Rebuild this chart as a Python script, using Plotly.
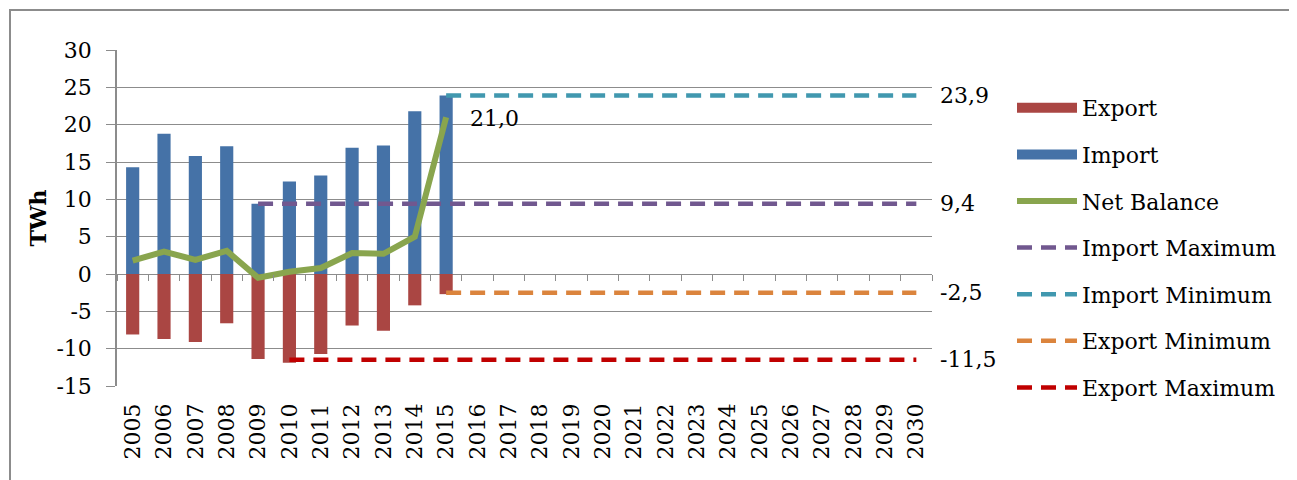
import plotly.graph_objects as go

years = [str(y) for y in range(2005, 2031)]
hist_years = years[:11]  # 2005-2015

import_twh = [14.3, 18.8, 15.8, 17.1, 9.4, 12.4, 13.2, 16.9, 17.2, 21.8, 23.9]
export_twh = [-8.1, -8.7, -9.1, -6.6, -11.4, -11.9, -10.7, -6.9, -7.6, -4.2, -2.7]
net_balance = [1.8, 3.0, 1.9, 3.1, -0.5, 0.3, 0.8, 2.8, 2.7, 5.0, 21.0]

y_tickvals = [-15, -10, -5, 0, 5, 10, 15, 20, 25, 30]
y_ticktext = ["-15", "-10", "-5", "0", "5", "10", "15", "20", "25", "30"]

# reference levels: (name, value, first year, colour)
import_max = 9.4
import_min = 23.9
export_min = -2.5
export_max = -11.5
levels = [
    ("Import Maximum", import_max, "2009", "#71588F"),
    ("Import Minimum", import_min, "2015", "#4198AF"),
    ("Export Minimum", export_min, "2015", "#DB843D"),
    ("Export Maximum", export_max, "2010", "#C00000"),
]

FONT = "DejaVu Serif"
FS = 22
GRID = "#8C8C8C"
RED = "#AA4643"
BLUE = "#4572A7"


def fmt(v):
    return f"{v:.1f}".replace(".", ",")


fig = go.Figure()

fig.add_trace(go.Bar(
    x=hist_years, y=export_twh, name="Export",
    marker=dict(color=RED, line=dict(width=0)),
    width=0.42, legendgroup="a", showlegend=False,
))
fig.add_trace(go.Bar(
    x=hist_years, y=import_twh, name="Import",
    marker=dict(color=BLUE, line=dict(width=0)),
    width=0.42, legendgroup="b", showlegend=False,
))
# wide legend keys for the bar series
for name, color, grp in [("Export", RED, "a"), ("Import", BLUE, "b")]:
    fig.add_trace(go.Scatter(
        x=[None], y=[None], name=name, mode="lines",
        line=dict(color=color, width=14), legendgroup=grp,
    ))

last = len(years) - 1
for i, (name, val, start, color) in enumerate(levels):
    ys = [val if int(y) >= int(start) else None for y in years]
    fig.add_trace(go.Scatter(
        x=years, y=ys, name=name, mode="lines",
        line=dict(color=color, width=4.5, dash="15px,9px"),
        legendgroup="d%d" % i, legendrank=1003 + i,
    ))
    fig.add_annotation(
        x=last, y=val, text=fmt(val), showarrow=False,
        xanchor="left", yanchor="middle", xshift=22,
        font=dict(family=FONT, size=FS, color="black"),
    )

fig.add_trace(go.Scatter(
    x=hist_years, y=net_balance, name="Net Balance", mode="lines",
    line=dict(color="#89A54E", width=6),
    legendgroup="c", legendrank=1002,
))
fig.add_annotation(
    x=len(hist_years) - 1, y=net_balance[-1], text=fmt(net_balance[-1]),
    showarrow=False, xanchor="left", yanchor="middle", xshift=22, yshift=-1,
    font=dict(family=FONT, size=FS, color="black"),
)

# invisible trace to carry the category ticks drawn along the zero line
fig.add_trace(go.Scatter(
    x=years, y=[0] * len(years), xaxis="x2", mode="markers",
    marker=dict(opacity=0), showlegend=False, hoverinfo="skip",
))

xrange = [-0.5, len(years) - 0.5]

fig.update_layout(
    width=1289, height=472,
    barmode="relative",
    paper_bgcolor="white", plot_bgcolor="white",
    margin=dict(l=109, r=365, t=42, b=94),
    font=dict(family=FONT, size=FS, color="black"),
    xaxis=dict(
        type="category", categoryorder="array", categoryarray=years,
        range=xrange,
        tickangle=-90, showgrid=False, showline=False, zeroline=False,
        ticks="", ticklabelstandoff=12,
        tickfont=dict(family=FONT, size=FS),
    ),
    xaxis2=dict(
        type="category", categoryorder="array", categoryarray=years,
        range=xrange, overlaying="x", anchor="free",
        position=15 / 45, side="bottom", showticklabels=False,
        showgrid=False, showline=False, zeroline=False,
        ticks="outside", tickson="boundaries", ticklen=6,
        tickcolor=GRID, tickwidth=1.2,
    ),
    yaxis=dict(
        range=[-15, 30], tickvals=y_tickvals, ticktext=y_ticktext,
        showgrid=True, gridcolor=GRID, gridwidth=1.2,
        zeroline=True, zerolinecolor=GRID, zerolinewidth=1.2,
        showline=True, linecolor=GRID, linewidth=1.5,
        ticks="outside", ticklen=9, tickcolor=GRID, tickwidth=1.2,
        ticklabelstandoff=10,
        tickfont=dict(family=FONT, size=FS),
        title=dict(text="<b>TWh</b>", font=dict(family=FONT, size=FS), standoff=4),
    ),
    legend=dict(
        x=(1012 - 117) / 815, xanchor="left",
        y=(386 - 87) / 336, yanchor="top",
        traceorder="grouped", tracegroupgap=15,
        itemwidth=60,
        font=dict(family=FONT, size=FS),
        bgcolor="rgba(0,0,0,0)",
    ),
    showlegend=True,
    shapes=[dict(
        type="rect", xref="paper", yref="paper",
        x0=(10 - 117) / 815, x1=1.6, y0=-1.0, y1=(386 - 10) / 336,
        line=dict(color="#8C8C8C", width=2), fillcolor="rgba(0,0,0,0)",
        layer="below",
    )],
)

fig.write_html("out.html")
